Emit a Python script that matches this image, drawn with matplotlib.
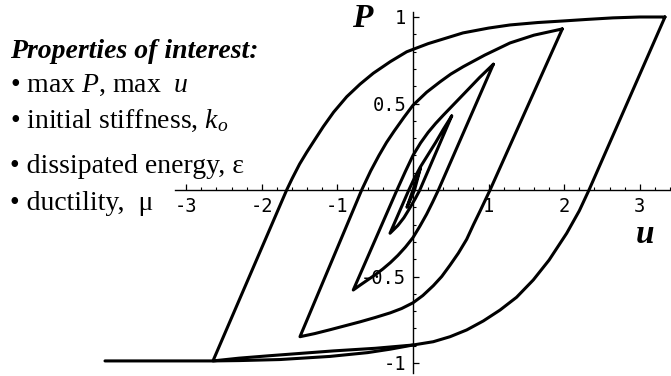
import numpy as np
import matplotlib
matplotlib.use("Agg")
import matplotlib.pyplot as plt
from matplotlib.ticker import FixedLocator, NullFormatter

W, H, DPI = 671, 376, 100

# ---- hysteresis branches: displacement u, force P ----
# innermost cycle
u_down0 = [0.10, 0.02, -0.08]
p_down0 = [0.13, 0.00, -0.10]
u_up0 = [-0.08, 0.00, 0.10]
p_up0 = [-0.10, 0.00, 0.13]

# cycle 1
u_down1 = [0.512, 0.09, 0.03, -0.05, -0.12, -0.20, -0.304]
p_down1 = [0.428, 0.00, -0.05, -0.11, -0.16, -0.205, -0.250]
u_up1 = [-0.304, -0.055, 0.02, 0.10, 0.20, 0.30, 0.40, 0.512]
p_up1 = [-0.250, 0.000, 0.07, 0.135, 0.205, 0.275, 0.35, 0.428]

# cycle 2
u_down2 = [1.063, 0.336, 0.26, 0.18, 0.09, 0.00, -0.10, -0.20, -0.30, -0.40,
           -0.50, -0.60, -0.70, -0.790]
p_down2 = [0.727, 0.000, -0.07, -0.14, -0.21, -0.275, -0.33, -0.378, -0.42, -0.457,
           -0.49, -0.52, -0.55, -0.578]
u_up2 = [-0.790, -0.212, -0.10, 0.00, 0.10, 0.20, 0.30, 0.40, 0.55, 0.70, 0.88, 1.063]
p_up2 = [-0.578, 0.000, 0.108, 0.20, 0.272, 0.333, 0.385, 0.432, 0.50, 0.568, 0.65, 0.727]

# cycle 3
u_down3 = [1.975, 1.019, 0.90, 0.80, 0.71, 0.60, 0.489, 0.38, 0.269, 0.13, 0.00,
           -0.15, -0.30, -0.50, -0.70, -0.90, -1.10, -1.30, -1.495]
p_down3 = [0.931, 0.000, -0.11, -0.20, -0.285, -0.365, -0.435, -0.50, -0.553, -0.61,
           -0.652, -0.685, -0.71, -0.737, -0.762, -0.785, -0.808, -0.83, -0.848]
u_up3 = [-1.495, -0.679, -0.56, -0.45, -0.35, -0.25, -0.12, 0.00, 0.18, 0.357, 0.50,
         0.665, 0.95, 1.283, 1.60, 1.975]
p_up3 = [-0.848, 0.000, 0.11, 0.20, 0.275, 0.34, 0.42, 0.49, 0.565, 0.625, 0.67,
         0.713, 0.78, 0.85, 0.895, 0.931]

# cycle 4
u_down4 = [3.333, 2.328, 2.20, 2.033, 1.80, 1.591, 1.37, 1.151, 0.93, 0.710, 0.49,
           0.268, 0.00, -0.50, -1.05, -1.90, -2.30, -2.646]
p_down4 = [1.000, 0.000, -0.12, -0.25, -0.405, -0.52, -0.62, -0.694, -0.757, -0.809,
           -0.848, -0.877, -0.896, -0.915, -0.93, -0.958, -0.972, -0.988]
u_up4 = [-2.646, -1.671, -1.60, -1.50, -1.406, -1.30, -1.187, -1.05, -0.877, -0.70,
         -0.525, -0.30, -0.083, 0.20, 0.661, 1.00, 1.283, 1.65, 1.984, 2.30, 2.646,
         3.00, 3.333]
p_up4 = [-0.988, 0.000, 0.065, 0.15, 0.218, 0.29, 0.366, 0.45, 0.539, 0.612,
         0.675, 0.742, 0.799, 0.846, 0.908, 0.936, 0.954, 0.968, 0.977, 0.986, 0.995,
         1.000, 1.000]

# final unloading run-out
u_final = [0.00, -0.30, -0.60, -1.10, -1.76, -2.30, -2.646, -4.074]
p_final = [-0.896, -0.92, -0.94, -0.962, -0.98, -0.986, -0.988, -0.988]

x_major = [-3, -2, -1, 1, 2, 3]
x_labels = ["-3", "-2", "-1", "1", "2", "3"]
y_major = [-1, -0.5, 0.5, 1]
y_labels = ["-1", "-0.5", "0.5", "1"]

bullets = ["\u2022 max $P$, max  $u$",
           "\u2022 initial stiffness, $k_o$",
           "\u2022 dissipated energy, \u03b5",
           "\u2022 ductility,  \u03bc"]

plt.rcParams['mathtext.fontset'] = 'custom'
plt.rcParams['mathtext.rm'] = 'Liberation Serif'
plt.rcParams['mathtext.it'] = 'Liberation Serif:italic'
plt.rcParams['mathtext.bf'] = 'Liberation Serif:bold'

fig = plt.figure(figsize=(W / DPI, H / DPI), dpi=DPI)
ax = fig.add_axes([0, 0, 1, 1])
ax.set_xlim(-413 / 75.6, (W - 413) / 75.6)
ax.set_ylim((190 - H) / 173, 190 / 173)

curve_kw = dict(color="black", lw=2.2, solid_joinstyle="round", solid_capstyle="round")
loops = [(u_down0, p_down0, u_up0, p_up0),
         (u_down1, p_down1, u_up1, p_up1),
         (u_down2, p_down2, u_up2, p_up2),
         (u_down3, p_down3, u_up3, p_up3),
         (u_down4, p_down4, u_up4, p_up4)]
for ud, pd, uu, pu in loops:
    ax.plot(np.concatenate([ud, uu[1:]]), np.concatenate([pd, pu[1:]]), **curve_kw)
ax.plot(u_final, p_final, **curve_kw)

# axes crossing at the origin
for side in ("top", "right"):
    ax.spines[side].set_visible(False)
ax.spines["left"].set_position(("data", 0))
ax.spines["bottom"].set_position(("data", 0))
ax.spines["left"].set_bounds(-1.06, 1.03)
ax.spines["bottom"].set_bounds(-3.15, 3.45)
for side in ("left", "bottom"):
    ax.spines[side].set_linewidth(1.0)

ax.xaxis.set_major_locator(FixedLocator(x_major))
ax.xaxis.set_minor_locator(FixedLocator(np.arange(-3.0, 3.41, 0.2)))
ax.yaxis.set_major_locator(FixedLocator(y_major))
ax.yaxis.set_minor_locator(FixedLocator(np.arange(-1.0, 1.01, 0.1)))
ax.xaxis.set_minor_formatter(NullFormatter())
ax.yaxis.set_minor_formatter(NullFormatter())
ax.set_xticklabels(x_labels, fontfamily="DejaVu Sans Mono", fontsize=13.5)
ax.set_yticklabels(y_labels, fontfamily="DejaVu Sans Mono", fontsize=13.5)
ax.tick_params(which="major", direction="in", length=4.5, width=0.9, pad=5)
ax.tick_params(which="minor", direction="in", length=2.5, width=0.8)

# axis titles
fig.text(352 / W, 1 - 27 / H, "P", family="Liberation Serif", weight="bold",
         style="italic", size=24, va="baseline")
fig.text(636 / W, 1 - 243 / H, "u", family="Liberation Serif", weight="bold",
         style="italic", size=24, va="baseline")

# property list
fig.text(10 / W, 1 - 58 / H, "Properties of interest:", family="Liberation Serif",
         weight="bold", style="italic", size=20, va="baseline")
for txt, yb in zip(bullets, [92, 128, 173, 210]):
    fig.text(10 / W, 1 - yb / H, txt, family="Liberation Serif", size=20, va="baseline")

fig.savefig("out.png", dpi=DPI)
